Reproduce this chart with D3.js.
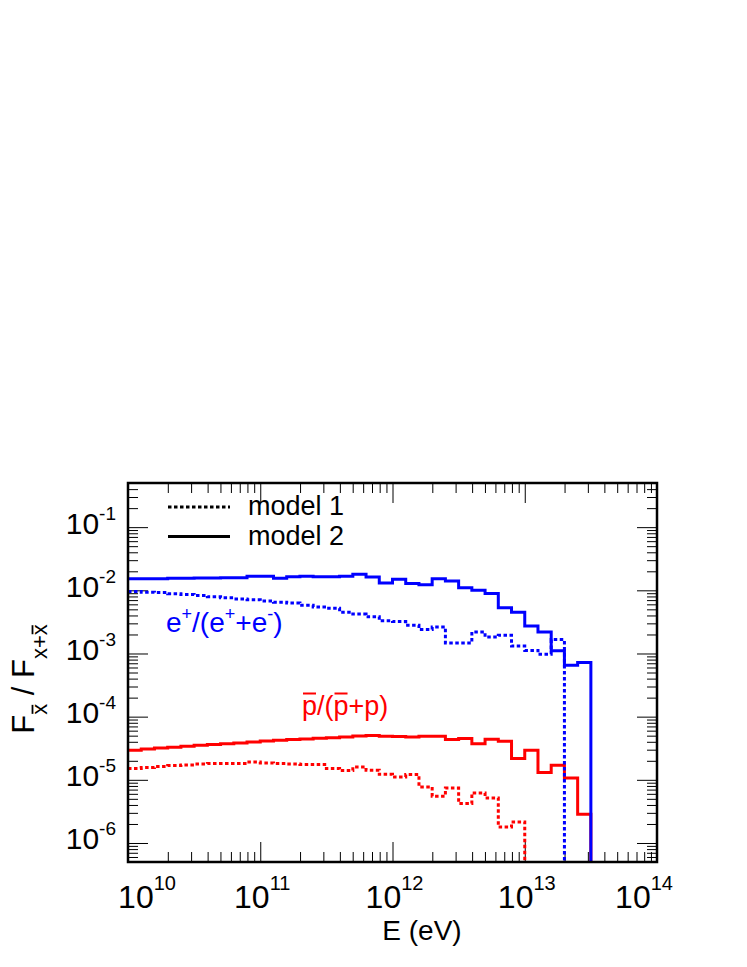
<!DOCTYPE html>
<html>
<head>
<meta charset="utf-8">
<script src="https://cdn.jsdelivr.net/npm/d3@7"></script>
<style>
body { margin: 0; background: #fff; }
svg text { font-family: "Liberation Sans", Arial, Helvetica, sans-serif; }
</style>
</head>
<body>
<div id="container"></div>
<script>

// data : lower edges of the energy bins, log10(E / eV), plus the last upper edge
var binEdges = [10.0, 10.1, 10.2, 10.3, 10.4, 10.5, 10.6, 10.7, 10.8, 10.9,
                11.0, 11.1, 11.2, 11.3, 11.4, 11.5, 11.6, 11.7, 11.8, 11.9,
                12.0, 12.1, 12.2, 12.3, 12.4, 12.5, 12.6, 12.7, 12.8, 12.9,
                13.0, 13.1, 13.2, 13.3, 13.4, 13.5];

// e+/(e+ + e-), model 1 (dotted) and model 2 (solid)
var posModel1 = [9.6e-3, 9.3e-3, 9.2e-3, 8.8e-3, 8.6e-3, 8.3e-3, 7.9e-3, 7.6e-3, 7.3e-3, 7.1e-3,
                 6.8e-3, 6.5e-3, 6.3e-3, 5.8e-3, 5.45e-3, 5.2e-3, 4.5e-3, 4.2e-3, 3.8e-3, 3.3e-3,
                 3.2e-3, 2.79e-3, 2.39e-3, 2.63e-3, 1.47e-3, 1.47e-3, 2.19e-3, 1.82e-3, 1.94e-3, 1.31e-3,
                 1.12e-3, 9.7e-4, 1.66e-3];
var posModel2 = [1.53e-2, 1.52e-2, 1.53e-2, 1.55e-2, 1.55e-2, 1.57e-2, 1.57e-2, 1.58e-2, 1.58e-2, 1.67e-2,
                 1.67e-2, 1.55e-2, 1.64e-2, 1.67e-2, 1.64e-2, 1.64e-2, 1.67e-2, 1.80e-2, 1.62e-2, 1.31e-2,
                 1.50e-2, 1.28e-2, 1.23e-2, 1.53e-2, 1.41e-2, 1.10e-2, 1.00e-2, 8.9e-3, 5.3e-3, 4.5e-3,
                 2.72e-3, 2.19e-3, 1.10e-3, 6.5e-4, 7.2e-4];

// pbar/(pbar + p), model 1 (dotted) and model 2 (solid)
var pbarModel1 = [1.51e-5, 1.56e-5, 1.62e-5, 1.68e-5, 1.72e-5, 1.78e-5, 1.81e-5, 1.81e-5, 1.81e-5, 1.92e-5,
                  1.85e-5, 1.81e-5, 1.78e-5, 1.74e-5, 1.74e-5, 1.51e-5, 1.40e-5, 1.60e-5, 1.42e-5, 1.22e-5,
                  1.11e-5, 1.21e-5, 7.7e-6, 5.5e-6, 7.4e-6, 4.2e-6, 6.2e-6, 5.15e-6, 1.79e-6, 2.15e-6];
var pbarModel2 = [2.93e-5, 3.08e-5, 3.19e-5, 3.27e-5, 3.40e-5, 3.52e-5, 3.61e-5, 3.74e-5, 3.83e-5, 3.97e-5,
                  4.12e-5, 4.22e-5, 4.33e-5, 4.43e-5, 4.54e-5, 4.65e-5, 4.76e-5, 4.94e-5, 5.01e-5, 4.89e-5,
                  4.83e-5, 4.76e-5, 4.89e-5, 4.89e-5, 4.33e-5, 4.49e-5, 3.74e-5, 4.38e-5, 4.07e-5, 2.17e-5,
                  2.93e-5, 1.30e-5, 1.70e-5, 1.07e-5, 2.85e-6];

var xMajor = [1e10, 1e11, 1e12, 1e13, 1e14];
var yMajor = [1e-6, 1e-5, 1e-4, 1e-3, 1e-2, 1e-1];
var legendLabels = ['model 1', 'model 2'];

// parameters
var width = 747,
    height = 967,
    frame = { left: 128, right: 657, top: 483, bottom: 862 },
    dotted = '3.5,2.5';

var x = d3.scaleLog().domain([1e10, 1e14]).range([frame.left, frame.right]);
var y = d3.scaleLog().domain([5e-7, 0.5]).range([frame.bottom, frame.top]);

function isDecade(d) {
    var l = Math.log10(d);
    return Math.abs(l - Math.round(l)) < 1e-9;
}

var svg = d3.select('#container')
    .append('svg')
    .attr('width', width)
    .attr('height', height);

svg.append('defs').append('clipPath')
    .attr('id', 'plotClip')
    .append('rect')
    .attr('x', frame.left).attr('y', frame.top)
    .attr('width', frame.right - frame.left)
    .attr('height', frame.bottom - frame.top);

// ticks on all four sides, pointing inward
function ticks(axisFn, scale, vals, len, transform) {
    svg.append('g')
        .attr('transform', transform)
        .call(axisFn(scale).tickValues(vals).tickSize(-len).tickFormat(''))
        .call(function (g) { g.select('.domain').remove(); })
        .selectAll('line')
        .attr('stroke', '#000')
        .attr('stroke-width', 1);
}

var xMinor = x.ticks().filter(function (d) { return !isDecade(d); });
var yMinor = y.ticks().filter(function (d) { return !isDecade(d); });

ticks(d3.axisBottom, x, xMajor, 20, 'translate(0,' + frame.bottom + ')');
ticks(d3.axisBottom, x, xMinor, 10, 'translate(0,' + frame.bottom + ')');
ticks(d3.axisTop, x, xMajor, 20, 'translate(0,' + frame.top + ')');
ticks(d3.axisTop, x, xMinor, 10, 'translate(0,' + frame.top + ')');
ticks(d3.axisLeft, y, yMajor, 20, 'translate(' + frame.left + ',0)');
ticks(d3.axisLeft, y, yMinor, 10, 'translate(' + frame.left + ',0)');
ticks(d3.axisRight, y, yMajor, 20, 'translate(' + frame.right + ',0)');
ticks(d3.axisRight, y, yMinor, 10, 'translate(' + frame.right + ',0)');

// histograms
var line = d3.line()
    .x(function (d) { return x(Math.pow(10, d.e)); })
    .y(function (d) { return d.v === null ? frame.bottom : y(d.v); })
    .curve(d3.curveStepAfter);

function histPoints(vals) {
    var pts = vals.map(function (v, i) { return { e: binEdges[i], v: v }; });
    pts.push({ e: binEdges[vals.length], v: null });
    return pts;
}

var graph = svg.append('g').attr('clip-path', 'url(#plotClip)');

var series = [
    { vals: pbarModel1, color: '#ff0000', dash: dotted },
    { vals: pbarModel2, color: '#ff0000', dash: null },
    { vals: posModel1, color: '#0000ff', dash: dotted },
    { vals: posModel2, color: '#0000ff', dash: null }
];

graph.selectAll('path')
    .data(series)
    .enter()
    .append('path')
    .attr('d', function (d) { return line(histPoints(d.vals)); })
    .attr('fill', 'none')
    .attr('stroke', function (d) { return d.color; })
    .attr('stroke-width', 3)
    .attr('stroke-dasharray', function (d) { return d.dash; });

// frame
svg.append('rect')
    .attr('x', frame.left).attr('y', frame.top)
    .attr('width', frame.right - frame.left)
    .attr('height', frame.bottom - frame.top)
    .attr('fill', 'none')
    .attr('stroke', '#000')
    .attr('stroke-width', 2.5);

// tick labels
xMajor.forEach(function (v) {
    var cx = Math.max(frame.left + 19, Math.min(frame.right - 13, x(v) + 2));
    var t = svg.append('text')
        .attr('x', cx).attr('y', 908)
        .attr('text-anchor', 'middle')
        .style('font-size', '32px');
    t.append('tspan').text('10');
    t.append('tspan').attr('dy', -18).style('font-size', '20px').text(Math.round(Math.log10(v)));
});

yMajor.forEach(function (v) {
    var t = svg.append('text')
        .attr('x', 116).attr('y', y(v) + 6.5)
        .attr('text-anchor', 'end')
        .style('font-size', '30px');
    t.append('tspan').text('10');
    t.append('tspan').attr('dy', -14).style('font-size', '19px').text(Math.round(Math.log10(v)));
});

// axis titles
svg.append('text')
    .attr('x', 422).attr('y', 940)
    .attr('text-anchor', 'middle')
    .style('font-size', '28px')
    .text('E (eV)');

var yTitle = svg.append('g').attr('transform', 'translate(34,679) rotate(-90)');
var yText = yTitle.append('text')
    .attr('text-anchor', 'middle')
    .style('font-size', '31px');
yText.append('tspan').text('F');
yText.append('tspan').attr('dy', 13).style('font-size', '22px').text('x');
yText.append('tspan').attr('dy', -13).text(' / F');
yText.append('tspan').attr('dy', 13).style('font-size', '22px').text('x+x');

[1, 8].forEach(function (i) {
    var a = yText.node().getStartPositionOfChar(i),
        b = yText.node().getEndPositionOfChar(i);
    yTitle.append('line')
        .attr('x1', a.x + 1).attr('x2', b.x - 1)
        .attr('y1', a.y - 14.5).attr('y2', a.y - 14.5)
        .attr('stroke', '#000').attr('stroke-width', 1.8);
});

// legend
legendLabels.forEach(function (l, i) {
    var ly = 507 + i * 29.5;
    svg.append('line')
        .attr('x1', 168).attr('x2', 230)
        .attr('y1', ly).attr('y2', ly)
        .attr('stroke', '#000').attr('stroke-width', 3)
        .attr('stroke-dasharray', i == 0 ? dotted : null);
    svg.append('text')
        .attr('x', 248).attr('y', ly + 8)
        .style('font-size', '27px')
        .text(l);
});

// series labels
var posLabel = svg.append('text')
    .attr('x', 166).attr('y', 632)
    .attr('fill', '#0000ff')
    .style('font-size', '28px');
posLabel.append('tspan').text('e');
posLabel.append('tspan').attr('dy', -12).style('font-size', '18px').text('+');
posLabel.append('tspan').attr('dy', 12).text('/(e');
posLabel.append('tspan').attr('dy', -12).style('font-size', '18px').text('+');
posLabel.append('tspan').attr('dy', 12).text('+e');
posLabel.append('tspan').attr('dy', -12).style('font-size', '18px').text('-');
posLabel.append('tspan').attr('dy', 12).text(')');

var pbarLabel = svg.append('text')
    .attr('x', 302).attr('y', 715)
    .attr('fill', '#ff0000')
    .style('font-size', '27px')
    .text('p/(p+p)');

[0, 3].forEach(function (i) {
    var a = pbarLabel.node().getStartPositionOfChar(i),
        b = pbarLabel.node().getEndPositionOfChar(i);
    svg.append('line')
        .attr('x1', a.x + 1).attr('x2', b.x - 1)
        .attr('y1', 693.5).attr('y2', 693.5)
        .attr('stroke', '#ff0000').attr('stroke-width', 2);
});

</script>
</body>
</html>
